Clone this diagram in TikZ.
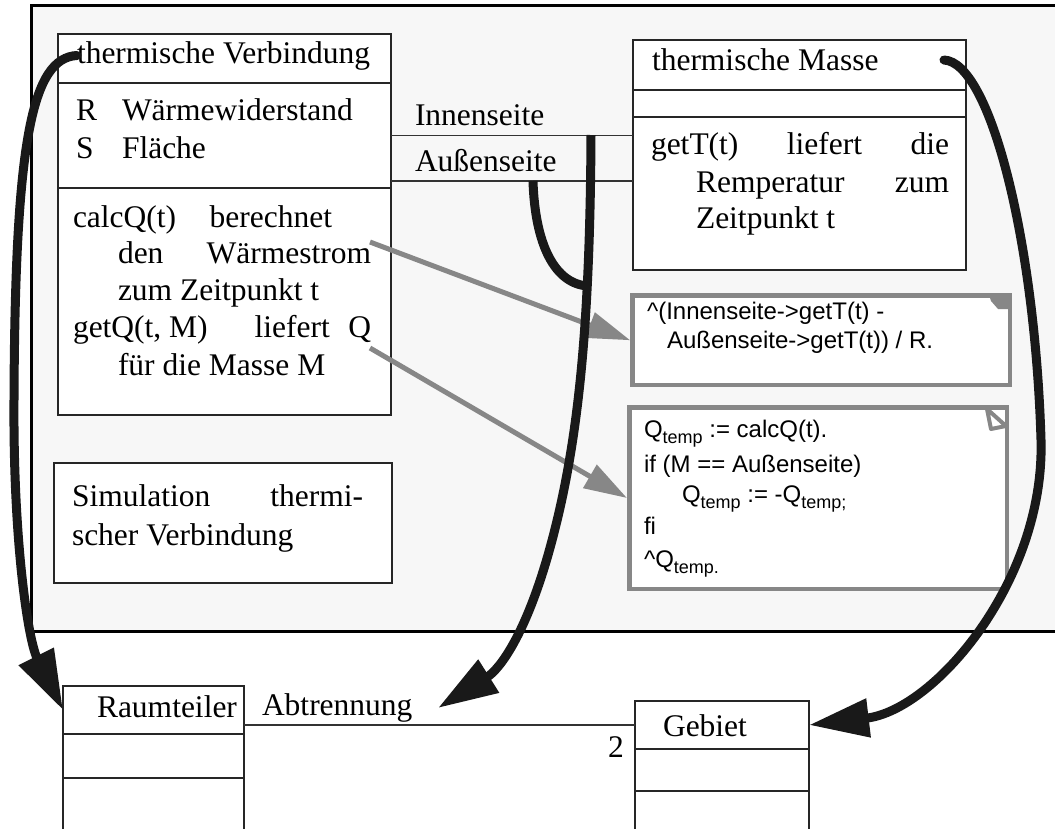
\documentclass[tikz,border=0pt]{standalone}
\usepackage{fontspec}
\setmainfont{Liberation Serif}
\newfontfamily\codefamily{Liberation Sans}
\usetikzlibrary{arrows.meta,calc}

\definecolor{notegray}{gray}{0.53}
\definecolor{ink}{gray}{0.1}
\definecolor{pkgfill}{gray}{0.97}

\newcommand\umlfont{\fontsize{31.5pt}{37pt}\selectfont}
\newcommand\codefont{\codefamily\fontsize{24pt}{28pt}\selectfont}
% subscript used in the note code
\newcommand\qsub[1]{\raisebox{-6pt}{\fontsize{18pt}{18pt}\selectfont #1}}

\begin{document}
\begin{tikzpicture}[x=1pt,y=-1pt,
  comp/.style={draw=black!85, line width=1.4pt, fill=white, inner sep=0pt, outer sep=0pt},
  txt/.style={inner sep=0pt, outer sep=0pt, anchor=base west, font=\umlfont},
  code/.style={inner sep=0pt, outer sep=0pt, anchor=base west, font=\codefont},
  note/.style={draw=notegray, line width=4.5pt, fill=white, inner sep=0pt},
  link/.style={draw=black!80, line width=1.3pt},
  trace/.style={draw=notegray, line width=5pt, -{Triangle[length=43pt,width=26pt]}},
  flow/.style={draw=ink, line width=9pt, -{Triangle[length=60pt,width=37pt]}}
]
\clip (0,0) rectangle (1055,828);
\fill[white] (0,0) rectangle (1055,828);

% package frame
\node[draw=black, line width=3pt, fill=pkgfill, inner sep=0pt,
      minimum width=1039pt, minimum height=625.5pt] (pkg) at (550.5,318.25) {};

% class: thermische Verbindung
\node[comp, minimum width=333pt, minimum height=49pt]  (tv-title) at (224.5,58.5) {};
\node[comp, minimum width=333pt, minimum height=105pt] (tv-attr)  at (224.5,135.5) {};
\node[comp, minimum width=333pt, minimum height=227pt] (tv-ops)   at (224.5,301.5) {};
\node[txt] (tv-name) at (77,63) {thermische Verbindung};
\node[txt] (tv-r)  at (76,120) {R};
\node[txt] (tv-rn) at (122,120) {Wärmewiderstand};
\node[txt] (tv-s)  at (76,158) {S};
\node[txt] (tv-sn) at (122,158) {Fläche};
\node[txt] (tv-op1) at (73,227) {\hbox to 259pt{calcQ(t)\hfill berechnet}};
\node[txt] (tv-op2) at (118,263) {\hbox to 253pt{den\hfill Wärmestrom}};
\node[txt] (tv-op3) at (118,300) {zum Zeitpunkt t};
\node[txt] (tv-op4) at (73,337) {\hbox to 298pt{getQ(t, M)\hspace{47pt}liefert\hfill Q}};
\node[txt] (tv-op5) at (118,375) {für die Masse M};

% description box
\node[comp, minimum width=338pt, minimum height=120pt] (sim) at (223,523) {};
\node[txt] (sim-l1) at (72,506) {\hbox to 291pt{Simulation\hfill thermi-}};
\node[txt] (sim-l2) at (72,545) {scher Verbindung};

% class: thermische Masse
\node[comp, minimum width=333pt, minimum height=50pt]  (tm-title) at (799.5,65) {};
\node[comp, minimum width=333pt, minimum height=27pt]  (tm-attr)  at (799.5,103.5) {};
\node[comp, minimum width=333pt, minimum height=153pt] (tm-ops)   at (799.5,193.5) {};
\node[txt] (tm-name) at (652,70) {thermische Masse};
\node[txt] (tm-op1) at (651,154) {\hbox to 298pt{getT(t)\hfill liefert\hfill die}};
\node[txt] (tm-op2) at (696,192) {\hbox to 253pt{Remperatur\hfill zum}};
\node[txt] (tm-op3) at (696,228) {Zeitpunkt t};

% method notes
\node[note, minimum width=377.5pt, minimum height=89.5pt]  (note-calc) at (821.25,340.25) {};
\node[note, minimum width=377.5pt, minimum height=181.5pt] (note-getq) at (818,498) {};
\fill[notegray] (989,295) -- (1010,295) -- (1010,309) -- (998,309) -- (991,301) -- cycle;
\draw[notegray, line width=4pt, line join=round] (987,409) -- (1006,426) -- (991,429) -- cycle;
\node[code] (nc-1) at (647,319) {\textasciicircum(Innenseite->getT(t) -};
\node[code] (nc-2) at (667,348) {Außenseite->getT(t)) / R.};
\node[code] (ng-1) at (644,437) {Q\qsub{temp} := calcQ(t).};
\node[code] (ng-2) at (644,472) {if (M == Außenseite)};
\node[code] (ng-3) at (682,502) {Q\qsub{temp} := -Q\qsub{temp;}};
\node[code] (ng-4) at (644,534) {fi};
\node[code] (ng-5) at (644,567) {\textasciicircum Q\qsub{temp.}};

% associations between the two classes
\coordinate (outer-l) at ($(tv-attr.south east)+(0,-7)$);
\draw[link] (tv-attr.east) -- (tv-attr.east -| tm-ops.west);
\draw[link] (outer-l) -- (outer-l -| tm-ops.west);
\node[txt] (lbl-in)  at (415,125) {Innenseite};
\node[txt] (lbl-out) at (415,171) {Außenseite};

% classes below the package
\node[comp, minimum width=181pt, minimum height=48pt] (rt-title) at (153.5,710) {};
\node[comp, minimum width=181pt, minimum height=44pt] (rt-attr)  at (153.5,756) {};
\node[comp, minimum width=181pt, minimum height=62pt] (rt-ops)   at (153.5,809) {};
\node[txt] (rt-name) at (97,717) {Raumteiler};
\node[comp, minimum width=174pt, minimum height=48pt] (gb-title) at (722,725) {};
\node[comp, minimum width=174pt, minimum height=42pt] (gb-attr)  at (722,770) {};
\node[comp, minimum width=174pt, minimum height=59pt] (gb-ops)   at (722,820.5) {};
\node[txt] (gb-name) at (663,736) {Gebiet};
\draw[link] (rt-title.east |- gb-title.west) -- (gb-title.west);
\node[txt] (lbl-abtr) at (262,715) {Abtrennung};
\node[txt] (lbl-mult) at (608,757) {2};

% notes attached to the operations
\coordinate (calc-src) at (370,242);
\coordinate (getq-src) at (370,348);
\draw[trace] (calc-src) -- (note-calc.west);
\draw[trace] (getq-src) -- (note-getq.west);

% mapping arrows
\coordinate (inner-tap) at (591,135);
\coordinate (outer-tap) at (533,181);
\coordinate (abtr-tip)  at (438,708);
\coordinate (tm-hook)   at (944,60);
\draw[flow, line cap=round] (tv-name.west) .. controls (32,58) and (15,140) .. (14,400)
      .. controls (13,540) and (28,640) .. (rt-title.west);
\draw[flow] (inner-tap) .. controls (590,330) and (578,450) .. (548,555)
      .. controls (525,635) and (500,669) .. (abtr-tip);
\draw[draw=ink, line width=9pt] (outer-tap) .. controls (535,245) and (555,284) .. (588,286);
\draw[flow, line cap=round] (tm-hook) .. controls (990,62) and (1035,240) .. (1041,440)
      .. controls (1045,580) and (935,710) .. (gb-title.east);
\end{tikzpicture}
\end{document}
